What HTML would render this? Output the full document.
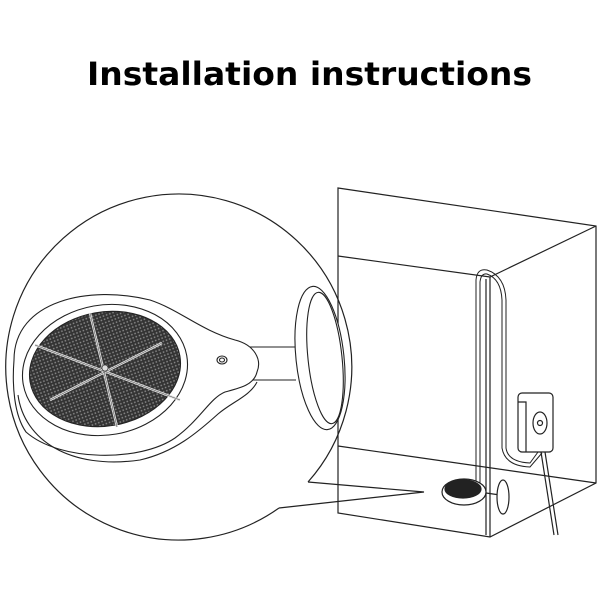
<!DOCTYPE html>
<html><head><style>html,body{margin:0;padding:0;background:#fff}svg{display:block}</style></head>
<body>
<svg width="600" height="600" viewBox="0 0 600 600" xmlns="http://www.w3.org/2000/svg">
<defs>
<pattern id="mesh" width="3.4" height="3.4" patternUnits="userSpaceOnUse" patternTransform="rotate(-10)">
<rect width="3.4" height="3.4" fill="#333"/>
<rect x="0.8" y="0.8" width="1.5" height="1.5" fill="#8a8a8a"/>
</pattern>
<clipPath id="cc"><circle cx="175" cy="368" r="173"/></clipPath>
</defs>
<rect width="600" height="600" fill="#fff"/>
<text x="87" y="85" font-family="DejaVu Sans, Liberation Sans, sans-serif" font-weight="bold" font-size="32" textLength="445" lengthAdjust="spacingAndGlyphs" fill="#000">Installation instructions</text>

<g fill="none" stroke="#222" stroke-width="1.2">
<path d="M338 188 L596 226 L596 483 L490 537 L338 513 Z"/>
<path d="M338 256 L490 277 L596 226"/>
<path d="M490 277 L490 537 M486 279 L486 535"/>
<path d="M338 446 L596 483"/>
<path d="M476 485 L476 280 Q477 268 487 270 Q505 276 506 300 L506 448 Q508 462 530 463 L538 452" stroke-width="1"/>
<path d="M480 485 L480 282 Q481 273 487 274 Q501 279 502 300 L502 448 Q505 466 530 467 L542 453" stroke-width="1"/>
<rect x="518" y="393" width="35" height="59" rx="4" fill="#fff"/>
<path d="M518 402 L526 402 L526 452"/>
<ellipse cx="540" cy="423" rx="7" ry="11"/>
<circle cx="540" cy="423" r="2.5"/>
<path d="M541 452 L554 535 M545 452 L558 535"/>
<ellipse cx="464" cy="492" rx="22" ry="13" fill="#fff"/>
<ellipse cx="463" cy="489" rx="18" ry="9" fill="#222"/>
<path d="M486 493 L500 495"/>
<ellipse cx="503" cy="497" rx="6" ry="17" fill="#fff"/>
</g>

<g fill="none" stroke="#222" stroke-width="1.2">
<path d="M308 482 A173 173 0 1 0 279 508"/>
<path d="M308 482 L424 492 L279 508"/>
</g>

<g clip-path="url(#cc)" fill="none" stroke="#222" stroke-width="1.1">
<path d="M248 347 L296 347 M248 380 L296 380"/>
<ellipse cx="320" cy="358" rx="24" ry="72" fill="#fff" transform="rotate(-6 320 358)"/>
<ellipse cx="325" cy="358" rx="17" ry="66" transform="rotate(-6 325 358)"/>
<path d="M14 360 C14 300 90 285 150 300 C180 310 200 330 235 340 C255 345 262 360 257 372 C254 385 240 388 225 392 C210 398 200 420 175 438 C140 462 60 462 26 432 C14 415 12 385 14 360 Z" fill="#fff"/>
<path d="M18 395 C24 440 70 470 140 460 C175 452 198 432 218 414 C232 402 250 396 257 382"/>
<ellipse cx="105" cy="370" rx="83" ry="65" transform="rotate(-10 105 370)"/>
<ellipse cx="105" cy="369" rx="76" ry="57" fill="url(#mesh)" stroke="#222" transform="rotate(-10 105 369)"/>
<g stroke="#ddd" stroke-width="2.4">
<path d="M90 313 L117 427 M35 345 L180 400 M50 400 L162 343"/>
</g>
<g stroke="#444" stroke-width="0.5">
<path d="M90 313 L117 427 M35 345 L180 400 M50 400 L162 343"/>
</g>
<circle cx="105" cy="368" r="3" fill="#ddd" stroke="#333" stroke-width="0.6"/>
<ellipse cx="222" cy="360" rx="5" ry="4"/>
<ellipse cx="222" cy="360" rx="2.5" ry="2"/>
</g>
</svg>
</body></html>
